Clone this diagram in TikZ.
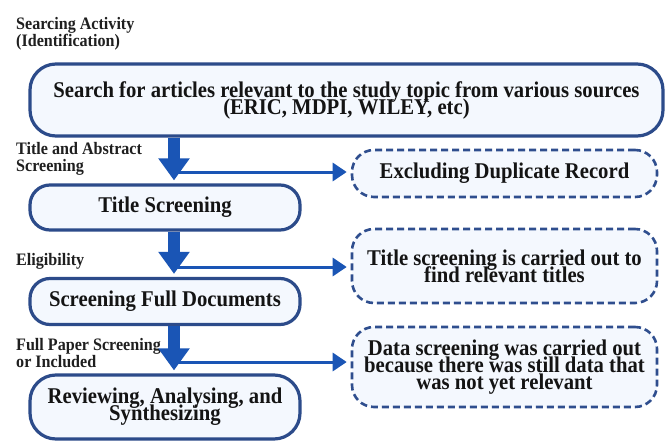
\documentclass[tikz,border=0pt]{standalone}
\usepackage{fontspec}
\setmainfont{Liberation Serif}[FakeStretch=0.92]
\usetikzlibrary{arrows.meta}

\definecolor{boxline}{HTML}{2C4B8A}
\definecolor{boxfill}{HTML}{F4F8FE}
\definecolor{flowblue}{HTML}{1A55B5}
\definecolor{dashline}{HTML}{2F4E8E}

\newcommand\boxfont{\bfseries\fontsize{22.5}{17}\selectfont\lineskiplimit=-50pt\relax}
\newcommand\phasefont{\bfseries\fontsize{17.5}{17.5}\selectfont\lineskiplimit=-50pt\relax}

\tikzset{
  stage/.style={draw=boxline, line width=3.2pt, fill=boxfill, rounded corners=20pt,
    align=center, inner sep=0pt, font=\boxfont, text=black!92},
  note/.style={draw=dashline, line width=2.6pt, dash pattern=on 7pt off 4pt,
    fill=boxfill, rounded corners=22pt, align=center, inner sep=0pt,
    font=\boxfont, text=black!92},
  phase/.style={anchor=north west, align=left, inner sep=0pt, font=\phasefont, text=black!88},
  mainflow/.style={draw=flowblue, line width=12pt,
    -{Triangle[width=30pt,length=22pt]}, shorten >=3pt},
  sideflow/.style={draw=flowblue, line width=3pt,
    -{Triangle[width=18pt,length=14pt]}, shorten >=4pt},
}

\begin{document}
\begin{tikzpicture}[x=1pt,y=-1pt]
  \useasboundingbox[fill=white] (0,0) rectangle (669,441);

  % process stages
  \node[stage, minimum width=633pt, minimum height=72pt, rounded corners=26pt] (search) at (346.5,100)
    {Search for articles relevant to the study topic from various sources\\(ERIC, MDPI, WILEY, etc)};
  \node[stage, minimum width=270pt, minimum height=45pt] (title) at (165,207.5) {Title Screening};
  \node[stage, minimum width=270pt, minimum height=46pt] (full) at (165,301.5) {Screening Full Documents};
  \node[stage, minimum width=270pt, minimum height=64pt, rounded corners=26pt] (review) at (165,407)
    {Reviewing, Analysing, and\\Synthesizing};

  % side notes
  \node[note, minimum width=305pt, minimum height=47pt] (dup) at (504.5,173.5) {Excluding Duplicate Record};
  \node[note, minimum width=305pt, minimum height=74pt] (titlenote) at (504.5,266)
    {Title screening is carried out to\\find relevant titles};
  \node[note, minimum width=305pt, minimum height=80pt] (datanote) at (504.5,367)
    {Data screening was carried out\\because there was still data that\\was not yet relevant};

  % phase labels
  \node[phase] (lab1) at (16,17) {Searcing Activity\\(Identification)};
  \node[phase] (lab2) at (16,142) {Title and Abstract\\Screening};
  \node[phase] (lab3) at (16,253) {Eligibility};
  \node[phase] (lab4) at (16,338) {Full Paper Screening\\or Included};

  % connectors
  \coordinate (spine) at (174,0);
  \coordinate (b1) at (0,172);
  \coordinate (b2) at (0,267);
  \coordinate (b3) at (0,362);
  \draw[sideflow] (spine |- b1) -- (dup.west |- b1);
  \draw[sideflow] (spine |- b2) -- (titlenote.west |- b2);
  \draw[sideflow] (spine |- b3) -- (datanote.west |- b3);
  \draw[mainflow] (search.south -| spine) -- (title.north -| spine);
  \draw[mainflow] (title.south -| spine) -- (full.north -| spine);
  \draw[mainflow] (full.south -| spine) -- (review.north -| spine);
\end{tikzpicture}
\end{document}
